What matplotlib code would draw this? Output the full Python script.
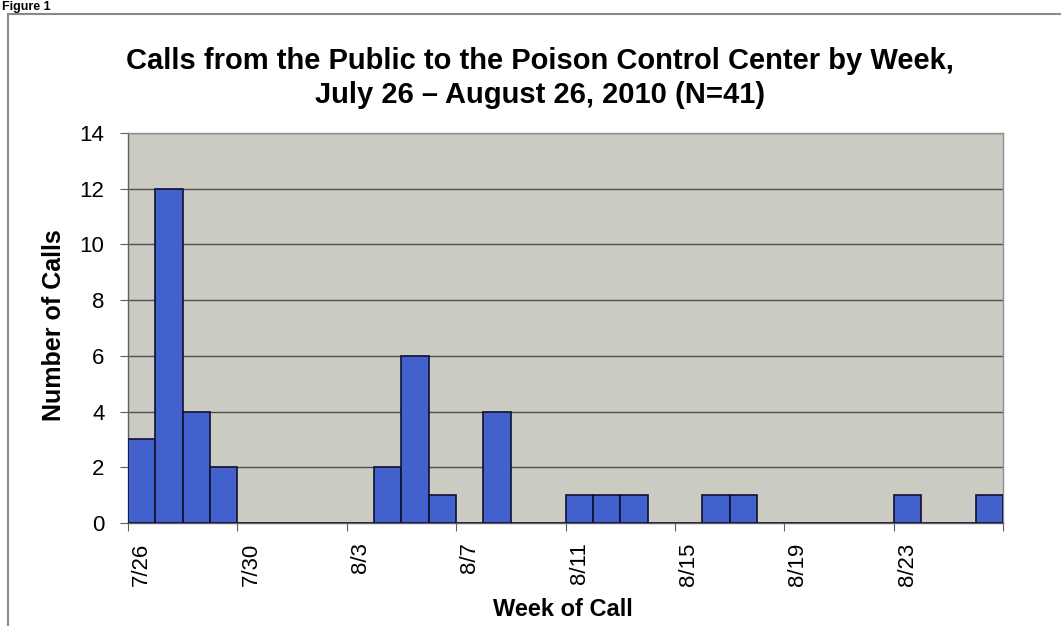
import matplotlib
matplotlib.use("Agg")
import matplotlib.pyplot as plt
from matplotlib.patches import Rectangle

days = ["7/26", "7/27", "7/28", "7/29", "7/30", "7/31", "8/1", "8/2",
        "8/3", "8/4", "8/5", "8/6", "8/7", "8/8", "8/9", "8/10",
        "8/11", "8/12", "8/13", "8/14", "8/15", "8/16", "8/17", "8/18",
        "8/19", "8/20", "8/21", "8/22", "8/23", "8/24", "8/25", "8/26"]
calls = [3, 12, 4, 2, 0, 0, 0, 0,
         0, 2, 6, 1, 0, 4, 0, 0,
         1, 1, 1, 0, 0, 1, 1, 0,
         0, 0, 0, 0, 1, 0, 0, 1]
labeled_days = ["7/26", "7/30", "8/3", "8/7", "8/11", "8/15", "8/19", "8/23"]
y_ticks = [0, 2, 4, 6, 8, 10, 12, 14]

title = "Calls from the Public to the Poison Control Center by Week,\nJuly 26 \u2013 August 26, 2010 (N=41)"

plt.rcParams['font.family'] = ['Liberation Sans', 'DejaVu Sans']

fig = plt.figure(figsize=(10.61, 6.26), dpi=100)
fig.patch.set_facecolor("white")

# outer chart border
fig.patches.append(Rectangle((8/1061, -0.1), 1.2, 1 - 14/626 + 0.1,
                             transform=fig.transFigure, fill=False,
                             edgecolor="#8a8a8a", linewidth=1.5))
fig.text(2/1061, 1.0 - 1/626, "Figure 1", fontsize=9, fontweight="bold",
         ha="left", va="top")

ax = fig.add_axes([128/1061, 1 - 523/626, 875/1061, 390/626])
ax.set_facecolor("#cbcbc4")

x = list(range(len(days)))
ax.bar(x, calls, width=1.0, color="#4361cc", edgecolor="#101030",
       linewidth=1.2, zorder=3)

ax.set_xlim(-0.5, len(days) - 0.5)
ax.set_ylim(0, 14)
ax.set_yticks(y_ticks)
ax.yaxis.grid(True, color="#505050", linewidth=1.0, zorder=1)
ax.set_axisbelow(True)
ax.tick_params(axis="y", labelsize=16, length=6, color="#606060", pad=11)

# major ticks at category boundaries every 4 days, labels at category centers
lab_idx = [days.index(d) for d in labeled_days]
ax.set_xticks([i - 0.5 for i in lab_idx] + [len(days) - 0.5])
ax.set_xticklabels([])
ax.tick_params(axis="x", which="major", length=6, color="#606060")
ax.set_xticks(lab_idx, minor=True)
ax.set_xticklabels(labeled_days, minor=True, rotation=90, fontsize=16)
ax.tick_params(axis="x", which="minor", length=0, pad=14)

for side in ["top", "right"]:
    ax.spines[side].set_color("#909090")
    ax.spines[side].set_linewidth(1.0)
for side in ["left", "bottom"]:
    ax.spines[side].set_color("#606060")
    ax.spines[side].set_linewidth(1.0)

fig.text(54/1061, 1 - 325/626, "Number of Calls", rotation=90,
         ha="center", va="center", fontsize=18, fontweight="bold")
fig.text(563/1061, 1 - 610/626, "Week of Call",
         ha="center", va="center", fontsize=17, fontweight="bold")

fig.text(540/1061, 1 - 78/626, title, ha="center", va="center",
         fontsize=21, fontweight="bold", linespacing=1.25)

fig.savefig("out.png", dpi=100)
